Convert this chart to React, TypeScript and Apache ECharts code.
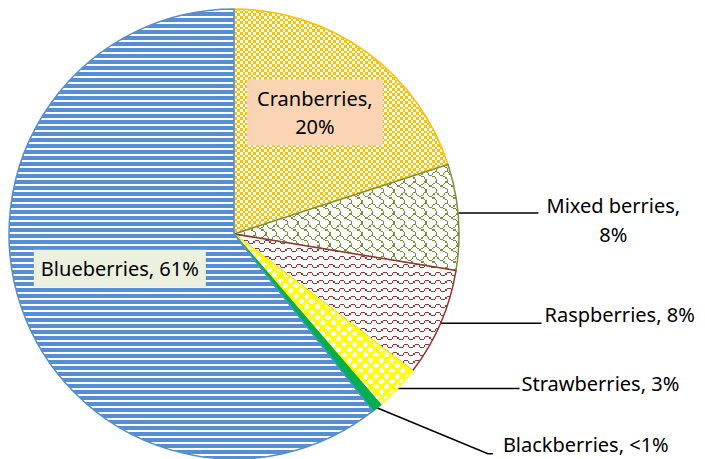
import React, { useEffect, useRef } from 'react';
import * as echarts from 'echarts';

const categories = ['Cranberries', 'Mixed berries', 'Raspberries', 'Strawberries', 'Blackberries', 'Blueberries'];
const values = [20, 7.6, 7.8, 3.3, 0.7, 60.6];
const percentLabels = ['20%', '8%', '8%', '3%', '<1%', '61%'];

function makeCanvas(w: number, h: number, draw: (ctx: CanvasRenderingContext2D) => void) {
  const c = document.createElement('canvas');
  c.width = w;
  c.height = h;
  const ctx = c.getContext('2d') as CanvasRenderingContext2D;
  draw(ctx);
  return c;
}

// 8-px-wide bitmap rows, scaled by 4/3 with nearest-neighbour into a tiled canvas
function bitmapCanvas(rows: number[], tiles: number, fg: string, bg: string) {
  const nx = 8 * tiles;
  const ny = rows.length * tiles;
  const w = Math.round((nx * 4) / 3);
  const h = Math.round((ny * 4) / 3);
  const bx: number[] = [];
  const by: number[] = [];
  for (let i = 0; i <= nx; i++) bx.push(Math.round((i * w) / nx));
  for (let i = 0; i <= ny; i++) by.push(Math.round((i * h) / ny));
  return makeCanvas(w, h, (ctx) => {
    ctx.fillStyle = bg;
    ctx.fillRect(0, 0, w, h);
    ctx.fillStyle = fg;
    for (let y = 0; y < ny; y++) {
      for (let x = 0; x < nx; x++) {
        if (rows[y % rows.length] & (0x80 >> (x % 8))) {
          ctx.fillRect(bx[x], by[y], bx[x + 1] - bx[x], by[y + 1] - by[y]);
        }
      }
    }
  });
}

export default function App() {
  const ref = useRef<HTMLDivElement>(null);
  useEffect(() => {
    document.body.style.margin = '0';
    const chart = echarts.init(ref.current as HTMLDivElement, null, { renderer: 'svg' });

    const pat = (c: HTMLCanvasElement) => ({
      image: c,
      repeat: 'repeat',
      imageWidth: c.width,
      imageHeight: c.height,
    });

    const checker = bitmapCanvas([0xcc, 0xcc, 0x33, 0x33, 0xcc, 0xcc, 0x33, 0x33], 3, '#FFC000', '#FFFFFF');
    const shingle = bitmapCanvas([0x03, 0x84, 0x48, 0x30, 0x0c, 0x02, 0x01, 0x01], 3, '#77933C', '#FFFFFF');
    const zigzag = bitmapCanvas([0xc1, 0x22, 0x1c, 0x00, 0x00, 0x00], 3, '#953735', '#FFFFFF');
    const dots = bitmapCanvas([0x60, 0xf0, 0xf0, 0x60, 0x06, 0x0f, 0x0f, 0x06], 3, '#FFFFFF', '#FFFF00');
    const stripes = makeCanvas(6, 6, (ctx) => {
      ctx.fillStyle = '#FFFFFF';
      ctx.fillRect(0, 0, 6, 6);
      ctx.fillStyle = '#558ED5';
      ctx.fillRect(0, 0, 6, 4);
    });

    const fills: any[] = [pat(checker), pat(shingle), pat(zigzag), pat(dots), '#00B050', pat(stripes)];
    const borders = ['#FFC000', '#77933C', '#953735', '#FFFF00', '#00B050', '#558ED5'];

    const textBase = {
      color: '#000000',
      fontFamily: 'Noto Sans',
      fontSize: 20,
      lineHeight: 29,
    };

    const labelFor = (i: number) => {
      const name = categories[i];
      const pct = percentLabels[i];
      if (i === 0) {
        return {
          ...textBase,
          lineHeight: 28,
          position: 'inside',
          formatter: `${name},\n${pct}`,
          backgroundColor: '#FBD4B4',
          padding: [5, 10],
        };
      }
      if (i === 5) {
        return {
          ...textBase,
          lineHeight: 28,
          position: 'inside',
          formatter: `${name}, ${pct}`,
          backgroundColor: '#EBF1DE',
          padding: [5, 7],
        };
      }
      return {
        ...textBase,
        position: 'outside',
        distanceToLabelLine: 3,
        overflow: 'none',
        formatter: i === 1 ? `${name},\n${pct}` : `${name}, ${pct}`,
      };
    };

    const lineLen2 = [0, 80, 101, 122, 20, 0];

    const data = categories.map((name, i) => ({
      name,
      value: values[i],
      itemStyle: { color: fills[i], borderColor: borders[i], borderWidth: 1.5 },
      label: labelFor(i),
      labelLine: {
        show: i !== 0 && i !== 5,
        length: 0,
        length2: lineLen2[i],
        smooth: false,
        lineStyle: { color: '#000000', width: 1.5 },
      },
    }));

    chart.setOption({
      animation: false,
      backgroundColor: '#FFFFFF',
      series: [
        {
          type: 'pie',
          center: [234, 234],
          radius: 225,
          startAngle: 90,
          clockwise: true,
          avoidLabelOverlap: false,
          silent: true,
          emphasis: { disabled: true },
          label: { alignTo: 'none', bleedMargin: 0, overflow: 'none' },
          labelLayout: (p: any) => {
            const i = p.dataIndex;
            if (i === 0) return { dx: 13, dy: -28 };
            if (i === 5) return { dx: -5, dy: -3 };
            const pts = p.labelLinePoints;
            if (!pts || !pts[0]) return {};
            const x0 = pts[0][0];
            const y0 = pts[0][1];
            const x2 = pts[pts.length - 1][0];
            const y2 = pts[pts.length - 1][1];
            if (i === 1) {
              return {
                x: x2 + 3 + 72,
                y: y2 + 3,
                align: 'center',
                labelLinePoints: [
                  [x0, y0 - 4],
                  [x2, y2 - 4],
                ],
              };
            }
            if (i === 2) {
              return { x: x2 + 3, y: y2 - 9, labelLinePoints: [[x0, y0], [x2, y2]] };
            }
            if (i === 3) {
              return { x: x2 + 2, y: y2 - 5, labelLinePoints: [[x0, y0], [x2, y2]] };
            }
            if (i === 4) {
              return {
                x: x0 + 126,
                y: y0 + 37,
                labelLinePoints: [
                  [x0, y0],
                  [x0 + 111, y0 + 46],
                  [x0 + 116, y0 + 46],
                ],
              };
            }
            return {};
          },
          data,
        },
      ],
    });
    return () => chart.dispose();
  }, []);
  return <div ref={ref} style={{ width: 705, height: 459 }} />;
}
